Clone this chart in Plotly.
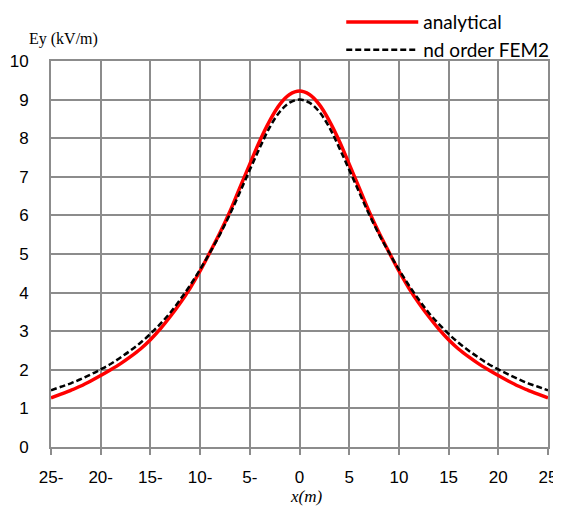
import plotly.graph_objects as go

# x positions (m)
x_vals = list(range(-25, 26))

# half profiles for x = 0..25 (curves are symmetric)
analytical_half = [9.22, 9.13, 8.87, 8.45, 7.93, 7.33, 6.72, 6.10, 5.55, 5.05,
                   4.56, 4.12, 3.73, 3.38, 3.06, 2.78, 2.54, 2.34, 2.16, 2.00,
                   1.85, 1.71, 1.58, 1.47, 1.37, 1.27]
fem2_half = [9.00, 8.92, 8.68, 8.28, 7.75, 7.18, 6.60, 6.03, 5.51, 5.04,
             4.60, 4.19, 3.82, 3.48, 3.19, 2.93, 2.70, 2.50, 2.32, 2.15,
             2.01, 1.88, 1.76, 1.65, 1.56, 1.47]

analytical = analytical_half[::-1] + analytical_half[1:]
fem2 = fem2_half[::-1] + fem2_half[1:]

tick_vals = [-25, -20, -15, -10, -5, 0, 5, 10, 15, 20, 25]
tick_text = ["25-", "20-", "15-", "10-", "5-", "0", "5", "10", "15", "20", "25"]

fig = go.Figure()
fig.add_trace(go.Scatter(x=x_vals, y=analytical, mode="lines", name="analytical",
                         line=dict(color="#ff0000", width=3.5, shape="spline")))
fig.add_trace(go.Scatter(x=x_vals, y=fem2, mode="lines", name="nd order FEM2",
                         line=dict(color="#000000", width=2.5, dash="6px,3px", shape="spline")))

grid_col = "#8c8c8c"
tick_font = dict(family="Liberation Sans, Arial, sans-serif", size=17, color="#000000")

# the page body adds an 8px offset, so margins are reduced by 8px on top/left
fig.update_layout(
    width=561, height=506,
    margin=dict(l=43, r=21, t=53, b=67, autoexpand=False),
    paper_bgcolor="white", plot_bgcolor="white",
    showlegend=True,
    legend=dict(x=0.584, y=1.15, xanchor="left", yanchor="top",
                bgcolor="rgba(0,0,0,0)", itemwidth=72, tracegroupgap=0,
                font=dict(family="Lato, sans-serif", size=19, color="#000000")),
    xaxis=dict(range=[-25, 25], tickvals=tick_vals, ticktext=tick_text,
               showgrid=True, gridcolor=grid_col, gridwidth=2,
               showline=True, linecolor=grid_col, linewidth=2, mirror=True,
               ticks="outside", ticklen=6, tickcolor=grid_col, tickwidth=2,
               ticklabelstandoff=8, tickfont=tick_font, zeroline=False,
               automargin=False),
    yaxis=dict(range=[0, 10], dtick=1,
               showgrid=True, gridcolor=grid_col, gridwidth=2,
               showline=True, linecolor=grid_col, linewidth=2, mirror=True,
               ticks="", ticklabelstandoff=17, tickfont=tick_font, zeroline=False,
               automargin=False),
    annotations=[
        dict(text="Ey (kV/m)", xref="paper", yref="paper", x=0.025, y=1.058,
             xanchor="center", yanchor="middle", showarrow=False,
             font=dict(family="Liberation Serif, Times New Roman, serif", size=16, color="#000000")),
        dict(text="<i>x(m)</i>", xref="paper", yref="paper", x=0.513, y=-0.127,
             xanchor="center", yanchor="middle", showarrow=False, borderpad=0,
             font=dict(family="Liberation Serif, Times New Roman, serif", size=17, color="#000000")),
    ],
)

fig.write_html("out.html")
